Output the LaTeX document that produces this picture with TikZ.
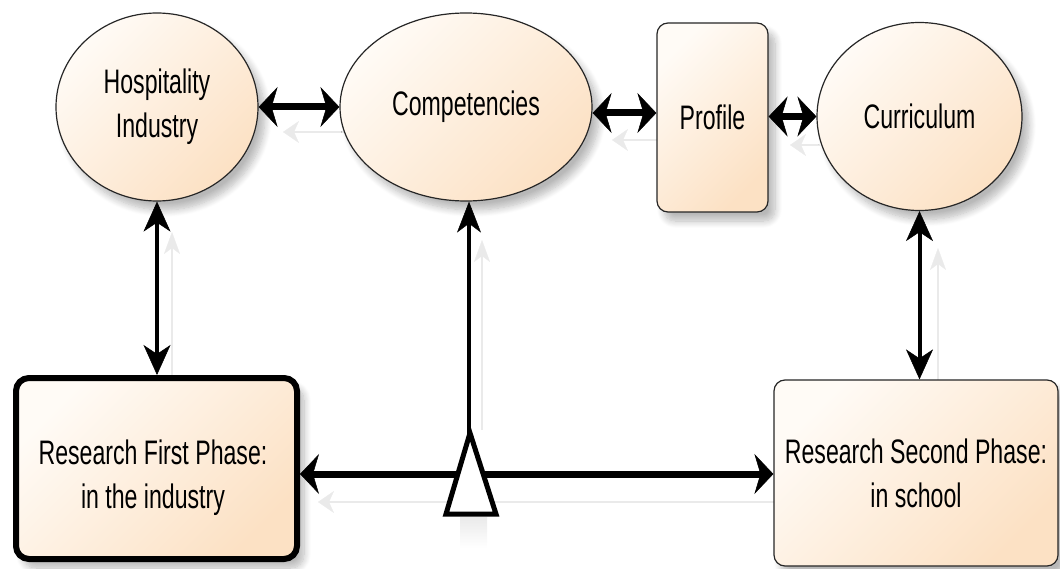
\documentclass[tikz,border=0pt]{standalone}
\usepackage{fontspec}
\newfontfamily\labelfont{Liberation Sans}[FakeStretch=0.68]
\usetikzlibrary{arrows.meta,shapes.geometric,shadows.blur}

\definecolor{peachlight}{RGB}{255,251,246}
\definecolor{peach}{RGB}{252,225,196}
\definecolor{ghost}{RGB}{234,234,234}

\tikzset{
  lbl/.style={font=\labelfont\fontsize{34}{44}\selectfont, align=center, text=black},
  softfill/.style={top color=peachlight, bottom color=peach, shading angle=45},
  shadowed/.style={blur shadow={shadow xshift=7pt, shadow yshift=-9pt,
      shadow blur steps=10, shadow opacity=28, shadow blur radius=7pt}},
  bubble/.style={ellipse, draw=black!85, line width=1.2pt, inner sep=0pt,
      softfill, shadowed, lbl},
  card/.style={rectangle, rounded corners=11pt, draw=black!85, line width=1.2pt,
      inner sep=0pt, softfill, shadowed, lbl},
  hboth/.style={line width=7pt, arrows={
      Stealth[length=19pt,width=40pt,inset=6pt,line width=0.5pt]-Stealth[length=19pt,width=40pt,inset=6pt,line width=0.5pt]}},
  hone/.style={line width=7pt, arrows={-Stealth[length=19pt,width=40pt,inset=6pt,line width=0.5pt]}},
  vboth/.style={line width=4pt, arrows={
      Stealth[length=30pt,width=27pt,inset=9pt,line width=0.5pt]-Stealth[length=30pt,width=27pt,inset=9pt,line width=0.5pt]}},
  vone/.style={line width=3.5pt, arrows={-Stealth[length=31pt,width=24pt,inset=9pt,line width=0.5pt]}},
  ghostline/.style={draw=ghost, line width=2pt},
  ghosth/.style={ghostline, arrows={Stealth[length=16pt,width=22pt,inset=5pt,line width=0.3pt]-}},
  ghostv/.style={ghostline, arrows={Stealth[length=22pt,width=16pt,inset=6pt,line width=0.3pt]-}},
}

\begin{document}
\begin{tikzpicture}[x=1pt,y=-1pt]
\useasboundingbox (0,0) rectangle (1060,569);

% faint offset copies of the connectors
\draw[ghosth] (283,132) -- (346,132);
\draw[ghosth] (612,140) -- (657,140);
\draw[ghosth] (790,145) -- (820,145);
\draw[ghostv] (172,232) -- (172,375);
\draw[ghostv] (482,240) -- (482,430);
\draw[ghostv] (938,248) -- (938,380);
\draw[ghosth] (318,502) -- (455,502);
\draw[ghostline] (488,502) -- (774,502);
\shade[top color=ghost, bottom color=white] (460,517) rectangle (487,548);

% nodes
\node[bubble, minimum width=202pt, minimum height=188pt] (hosp) at (157,107) {Hospitality\\Industry};
\node[bubble, minimum width=252pt, minimum height=188pt] (comp) at (466,107) {Competencies};
\node[card, minimum width=111pt, minimum height=189pt] (prof) at (712.5,117.5) {Profile};
\node[bubble, minimum width=205pt, minimum height=188pt] (curr) at (919.5,116.5) {Curriculum};
\node[card, line width=6pt, draw=black, rounded corners=13pt, minimum width=281pt, minimum height=181pt] (first) at (156.5,468.5) {};
\node[lbl] (firsttext) at (153,478) {Research First Phase:\\in the industry};
\node[card, minimum width=284pt, minimum height=186pt] (second) at (916,473) {Research Second Phase:\\in school};

% connectors between the top nodes
\draw[hboth] (hosp.east) -- (comp.west);
\draw[hboth] ([yshift=-6pt]comp.east) -- ([yshift=-6pt]comp.east -| prof.west);
\draw[hboth] (prof.east |- curr.west) -- (curr.west);

% vertical connectors
\draw[vboth] (hosp.south) -- (hosp.south |- first.north);
\draw[vboth] (curr.south) -- (curr.south |- second.north);

% lever: triangle feeding both research phases and the competencies
\coordinate (apex) at (469,438);
\coordinate (hub) at (471,474);
\draw[vone] (apex) -- (apex |- comp.south);
\draw[hone] (hub) -- (hub -| first.east);
\draw[hone] (hub) -- (hub -| second.west);
\draw[line width=5pt, fill=white, line join=miter] (470,433) -- (496,514) -- (446,514) -- cycle;
\end{tikzpicture}
\end{document}
